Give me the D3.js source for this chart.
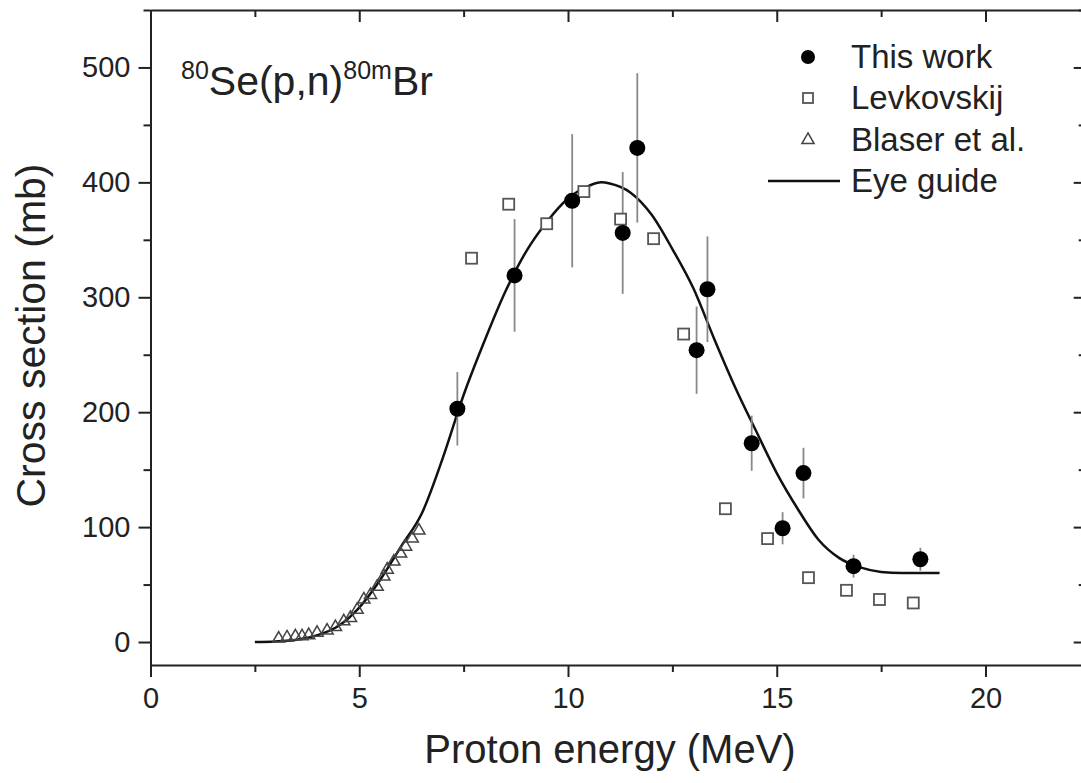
<!DOCTYPE html>
<html><head><meta charset="utf-8">
<script src="https://cdn.jsdelivr.net/npm/d3@7"></script>
<style>
html,body{margin:0;padding:0;background:#fff;}
svg{display:block;font-family:"Liberation Sans",Arial,sans-serif;}
</style></head>
<body>
<svg id="chart" width="1081" height="783"></svg>
<script>
// ---- data ----
const thisWorkE   = [7.35, 8.72, 10.10, 11.31, 11.66, 13.08, 13.34, 14.40, 15.14, 15.64, 16.84, 18.44];
const thisWorkXS  = [203, 319, 384, 356, 430, 254, 307, 173, 99, 147, 66, 72];
const thisWorkErr = [32, 49, 58, 53, 65, 38, 46, 24, 14, 22, 10, 10];

const levE  = [7.69, 8.58, 9.49, 10.38, 11.26, 12.05, 12.77, 13.77, 14.78, 15.76, 16.67, 17.46, 18.27];
const levXS = [334, 381, 364, 392, 368, 351, 268, 116, 90, 56, 45, 37, 34];

const blaserE  = [3.07, 3.27, 3.47, 3.63, 3.79, 3.99, 4.23, 4.43, 4.63, 4.79, 4.95, 5.11, 5.27, 5.43, 5.59, 5.67, 5.83, 5.99, 6.11, 6.27, 6.43];
const blaserXS = [3, 4, 5, 5, 6, 8, 10, 13, 18, 21, 28, 37, 41, 48, 57, 63, 70, 77, 83, 90, 97];

const guideE  = [2.5, 3.0, 3.5, 4.0, 4.5, 5.0, 5.5, 6.0, 6.5, 7.0, 7.5, 8.0, 8.5, 9.0, 9.5, 10.0, 10.5, 10.8, 11.0, 11.5, 12.0, 12.5, 13.0, 13.5, 14.0, 14.5, 15.0, 15.5, 16.0, 16.5, 17.0, 17.5, 18.0, 18.5, 18.9];
const guideXS = [0, 0.5, 2, 6, 14, 30, 54, 83, 112, 160, 215, 262, 305, 340, 366, 386, 397, 400, 399, 391, 372, 342, 308, 264, 222, 184, 147, 116, 89, 73, 65, 61, 60, 60, 60];

const xTicks = [0, 5, 10, 15, 20];
const yTicks = [0, 100, 200, 300, 400, 500];
const legendLabels = ["This work", "Levkovskij", "Blaser et al.", "Eye guide"];
const xTitle = "Proton energy (MeV)";
const yTitle = "Cross section (mb)";

// ---- layout ----
const L = 150.5, R = 150.5 + 22.4 * 41.75, T = 10, B = 665;
const svg = d3.select("#chart");
const x = d3.scaleLinear().domain([0, 22.4]).range([L, R]);
const y = d3.scaleLinear().domain([-20, 550]).range([B, T]);
const ink = "#222";

const minorX = d3.range(0, 22.5, 2.5).filter(v => v % 5 !== 0);
const minorY = d3.range(-0, 551, 50).filter(v => v % 100 !== 0);

function styleAxis(g) {
  g.select(".domain").attr("stroke", ink).attr("stroke-width", 2);
  g.selectAll(".tick line").attr("stroke", ink).attr("stroke-width", 2);
  g.selectAll(".tick text").attr("fill", ink).style("font-size", "29px");
}

// bottom axis
const gx = svg.append("g").attr("transform", `translate(0,${B})`)
  .call(d3.axisBottom(x).tickValues(xTicks).tickSize(12).tickSizeOuter(0).tickPadding(10).tickFormat(d3.format("d")));
styleAxis(gx);
svg.append("g").attr("transform", `translate(0,${B})`)
  .call(d3.axisBottom(x).tickValues(minorX).tickSize(7).tickSizeOuter(0).tickFormat(""))
  .call(g => { g.select(".domain").remove(); g.selectAll("line").attr("stroke", ink).attr("stroke-width", 2); });

// top axis (ticks inward)
const gt = svg.append("g").attr("transform", `translate(0,${T})`)
  .call(d3.axisBottom(x).tickValues(xTicks).tickSize(12).tickSizeOuter(0).tickFormat(""));
styleAxis(gt);
svg.append("g").attr("transform", `translate(0,${T})`)
  .call(d3.axisBottom(x).tickValues(minorX).tickSize(7).tickSizeOuter(0).tickFormat(""))
  .call(g => { g.select(".domain").remove(); g.selectAll("line").attr("stroke", ink).attr("stroke-width", 2); });

// left axis
const gy = svg.append("g").attr("transform", `translate(${L},0)`)
  .call(d3.axisLeft(y).tickValues(yTicks).tickSize(12).tickSizeOuter(0).tickPadding(8).tickFormat(d3.format("d")));
styleAxis(gy);
svg.append("g").attr("transform", `translate(${L},0)`)
  .call(d3.axisLeft(y).tickValues(minorY).tickSize(7).tickSizeOuter(0).tickFormat(""))
  .call(g => { g.select(".domain").remove(); g.selectAll("line").attr("stroke", ink).attr("stroke-width", 2); });

// right axis (ticks inward)
const gr = svg.append("g").attr("transform", `translate(${R},0)`)
  .call(d3.axisLeft(y).tickValues(yTicks).tickSize(12).tickSizeOuter(0).tickFormat(""));
styleAxis(gr);
svg.append("g").attr("transform", `translate(${R},0)`)
  .call(d3.axisLeft(y).tickValues(minorY).tickSize(7).tickSizeOuter(0).tickFormat(""))
  .call(g => { g.select(".domain").remove(); g.selectAll("line").attr("stroke", ink).attr("stroke-width", 2); });

// axis titles
svg.append("text").attr("x", 610).attr("y", 763).attr("text-anchor", "middle")
  .attr("fill", ink).style("font-size", "40px").text(xTitle);
svg.append("text").attr("transform", `translate(45,${(T + B) / 2 - 2}) rotate(-90)`).attr("text-anchor", "middle")
  .attr("fill", ink).style("font-size", "41px").text(yTitle);

// eye guide
const guide = guideE.map((e, i) => [e, guideXS[i]]);
svg.append("path").datum(guide)
  .attr("d", d3.line().x(d => x(d[0])).y(d => y(d[1])).curve(d3.curveMonotoneX))
  .attr("fill", "none").attr("stroke", "#111").attr("stroke-width", 2.5);

// error bars
const tw = thisWorkE.map((e, i) => ({e, v: thisWorkXS[i], err: thisWorkErr[i]}));
svg.append("g").selectAll("line").data(tw).join("line")
  .attr("x1", d => x(d.e)).attr("x2", d => x(d.e))
  .attr("y1", d => y(d.v - d.err)).attr("y2", d => y(d.v + d.err))
  .attr("stroke", "#888").attr("stroke-width", 1.8);

// Blaser triangles
const tri = d3.symbol().type(d3.symbolTriangle).size(64);
svg.append("g").selectAll("path").data(blaserE.map((e, i) => [e, blaserXS[i]])).join("path")
  .attr("transform", d => `translate(${x(d[0])},${y(d[1])})`)
  .attr("d", tri).attr("fill", "none").attr("stroke", "#444").attr("stroke-width", 1.5);

// Levkovskij squares
svg.append("g").selectAll("rect").data(levE.map((e, i) => [e, levXS[i]])).join("rect")
  .attr("x", d => x(d[0]) - 5.5).attr("y", d => y(d[1]) - 5.5)
  .attr("width", 11).attr("height", 11)
  .attr("fill", "#fff").attr("stroke", "#555").attr("stroke-width", 1.8);

// This work circles
svg.append("g").selectAll("circle").data(tw).join("circle")
  .attr("cx", d => x(d.e)).attr("cy", d => y(d.v)).attr("r", 8)
  .attr("fill", "#000");

// title
const title = svg.append("text").attr("x", 181).attr("y", 95).attr("fill", ink).style("font-size", "41px");
title.append("tspan").attr("dy", -16).style("font-size", "25px").text("80");
title.append("tspan").attr("dy", 16).text("Se(p,n)");
title.append("tspan").attr("dy", -16).style("font-size", "25px").text("80m");
title.append("tspan").attr("dy", 16).text("Br");

// legend
const lg = svg.append("g");
const lgY = [57, 98, 140, 181];
lg.append("circle").attr("cx", 808).attr("cy", lgY[0]).attr("r", 7).attr("fill", "#000");
lg.append("rect").attr("x", 803).attr("y", lgY[1] - 5).attr("width", 10).attr("height", 10)
  .attr("fill", "#fff").attr("stroke", "#555").attr("stroke-width", 1.8);
lg.append("path").attr("transform", `translate(808,${lgY[2]})`).attr("d", tri)
  .attr("fill", "none").attr("stroke", "#444").attr("stroke-width", 1.5);
lg.append("line").attr("x1", 768).attr("x2", 840).attr("y1", lgY[3]).attr("y2", lgY[3])
  .attr("stroke", "#111").attr("stroke-width", 2.5);
lg.selectAll("text").data(legendLabels).join("text")
  .attr("x", 851).attr("y", (d, i) => lgY[i] + 11).attr("fill", ink).style("font-size", "33px")
  .text(d => d);
</script>
</body></html>
